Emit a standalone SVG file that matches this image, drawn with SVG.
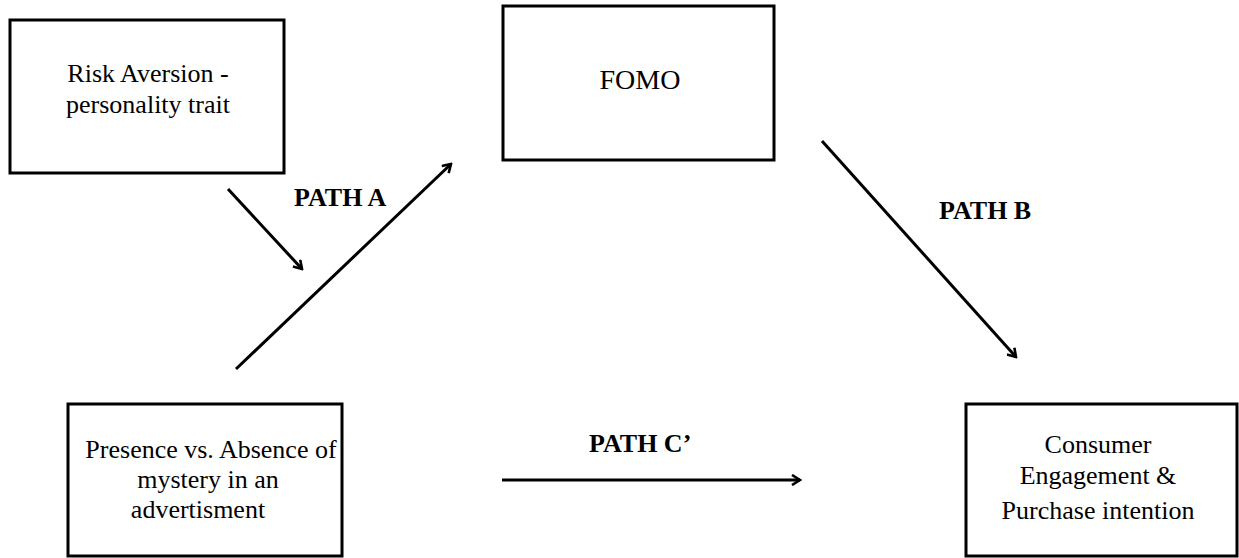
<svg xmlns="http://www.w3.org/2000/svg" width="1239" height="558" viewBox="0 0 1239 558">
<style>
.box{fill:#fff;stroke:#000;stroke-width:3}
.t{font-size:26px;fill:#000;text-anchor:middle}
.b{font-size:26px;font-weight:bold;fill:#000;text-anchor:start}
.c{stroke:#000;stroke-width:3;fill:none;marker-end:url(#ah)}
</style>
<defs>
<marker id="ah" viewBox="0 0 12 12" refX="10" refY="6" markerWidth="12" markerHeight="12" markerUnits="userSpaceOnUse" orient="auto">
<path d="M2,1 L10,6 L2,11" fill="none" stroke="#000" stroke-width="2.6" stroke-linejoin="miter"/>
</marker>
</defs>
<rect width="1239" height="558" fill="#fff"/>
<g font-family="'Liberation Serif', 'DejaVu Serif', serif">
<g id="risk">
<rect class="box" x="10" y="20" width="274" height="153"/>
<text class="t" x="148" y="82">Risk Aversion -</text>
<text class="t" x="148" y="113">personality trait</text>
</g>
<g id="fomo">
<rect class="box" x="503" y="6" width="271" height="154"/>
<text class="t" x="640" y="89" style="font-size:28px">FOMO</text>
</g>
<g id="mystery">
<rect class="box" x="68" y="404" width="274" height="152"/>
<text class="t" x="211" y="458">Presence vs. Absence of</text>
<text class="t" x="208" y="488">mystery in an</text>
<text class="t" x="198" y="518">advertisment</text>
</g>
<g id="outcome">
<rect class="box" x="966" y="404" width="271" height="152"/>
<text class="t" x="1098" y="453">Consumer</text>
<text class="t" x="1098" y="484">Engagement &amp;</text>
<text class="t" x="1098" y="519">Purchase intention</text>
</g>
<g id="connectors">
<line class="c" x1="228" y1="189" x2="302" y2="269"/>
<line class="c" x1="236" y1="369" x2="451" y2="164"/>
<line class="c" x1="822" y1="141" x2="1016" y2="357"/>
<line class="c" x1="502" y1="480" x2="800" y2="480"/>
</g>
<g id="labels">
<text class="b" x="294" y="206">PATH A</text>
<text class="b" x="939" y="219">PATH B</text>
<text class="b" x="589" y="452">PATH C’</text>
</g>
</g>
</svg>
